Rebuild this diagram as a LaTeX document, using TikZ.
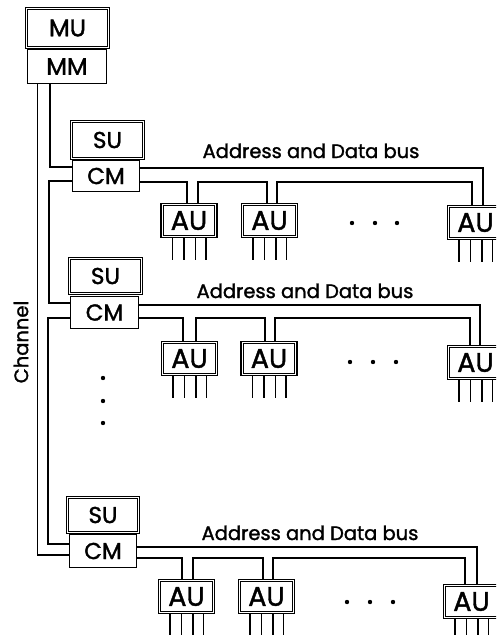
\documentclass[tikz,border=0pt]{standalone}
\usepackage{fontspec}
\setmainfont{Poppins}[FakeBold=1.5]
\tikzset{
  box/.style={draw, line width=1.2pt, rectangle, inner sep=0pt, font=\fontsize{23}{23}\selectfont},
  dbox/.style={box},
  aubox/.style={dbox, minimum width=56pt, minimum height=34pt, font=\fontsize{27}{27}\selectfont},
  wire/.style={line width=1.1pt},
  inner/.style={line width=1.1pt},
  buslbl/.style={anchor=base, inner sep=0pt, font=\fontsize{19.5}{19.5}\selectfont},
  dot/.style={circle, fill, inner sep=0pt, minimum size=4.4pt}
}
\begin{document}
\begin{tikzpicture}[x=1pt, y=-1pt]
\clip (0,0) rectangle (496,635);
% main memory
\node[dbox, minimum width=84pt, minimum height=41pt, font=\fontsize{24}{24}\selectfont] (mu) at (67.5,28) {MU};
\node[box, minimum width=79pt, minimum height=34pt, font=\fontsize{24}{24}\selectfont] (mm) at (67,66.5) {MM};
% clusters
\node[dbox, minimum width=74pt, minimum height=39pt] (su1) at (107.5,140) {SU};
\node[box, minimum width=67pt, minimum height=31pt] (cm1) at (106,176) {CM};
\node[dbox, minimum width=74pt, minimum height=37pt] (su2) at (105.5,276) {SU};
\node[box, minimum width=68pt, minimum height=32pt] (cm2) at (104.5,312.5) {CM};
\node[dbox, minimum width=73pt, minimum height=37pt] (su3) at (103,515) {SU};
\node[box, minimum width=67pt, minimum height=33pt] (cm3) at (103,551) {CM};
% arithmetic units
\node[aubox] (au11) at (189,220.5) {AU};
\node[aubox] (au12) at (269.5,220.5) {AU};
\node[aubox] (au13) at (475.5,222.5) {AU};
\node[aubox] (au21) at (189.5,358.5) {AU};
\node[aubox] (au22) at (269,358.5) {AU};
\node[aubox] (au23) at (475.5,362.5) {AU};
\node[aubox] (au31) at (186.5,596.5) {AU};
\node[aubox] (au32) at (266.5,596.5) {AU};
\node[aubox] (au33) at (471.5,601.5) {AU};
% inner borders of the double boxes
\foreach \n in {mu,su1,su2,su3,au11,au12,au13,au21,au22,au23,au31,au32,au33}{
  \draw[inner] ([shift={(3,3)}]\n.north west) rectangle ([shift={(-3,-3)}]\n.south east);
}
% labels
\node[buslbl] (bus1) at (311,158) {Address and Data bus};
\node[buslbl] (bus2) at (305,298) {Address and Data bus};
\node[buslbl] (bus3) at (310,540) {Address and Data bus};
\node[rotate=90, inner sep=0pt, font=\fontsize{19.5}{19.5}\selectfont] (chan) at (21,342) {Channel};
% channel lines
\draw[wire] (mm.south -| 37.5,0) -- (37.5,555) -- (cm3.west |- 0,555);
\draw[wire] (mm.south -| 50,0) |- (cm1.west |- 0,167);
\draw[wire] (cm1.west |- 0,181) -- (49,181) -- (49,303) -- (cm2.west |- 0,303);
\draw[wire] (cm2.west |- 0,318) -- (48,318) -- (48,544) -- (cm3.west |- 0,544);
% row 1 buses
\draw[wire] (cm1.east |- 0,168) -| (au13.north -| 483,0);
\draw[wire] (cm1.east |- 0,182) -| (au11.north -| 187,0);
\draw[wire] (au11.north -| 198,0) |- (267,182) -- (au12.north -| 267,0);
\draw[wire] (au12.north -| 277,0) |- (472,182) -- (au13.north -| 472,0);
% row 2 buses
\draw[wire] (cm2.east |- 0,305) -| (au23.north -| 480,0);
\draw[wire] (cm2.east |- 0,318) -| (au21.north -| 183,0);
\draw[wire] (au21.north -| 196,0) |- (265,318) -- (au22.north -| 265,0);
\draw[wire] (au22.north -| 275,0) |- (470,318) -- (au23.north -| 470,0);
% row 3 buses
\draw[wire] (cm3.east |- 0,547) -| (au33.north -| 477,0);
\draw[wire] (cm3.east |- 0,558) -| (au31.north -| 182,0);
\draw[wire] (au31.north -| 193,0) |- (263,558) -- (au32.north -| 263,0);
\draw[wire] (au32.north -| 273,0) |- (465,558) -- (au33.north -| 465,0);
% legs
\foreach \a in {au11,au12,au13,au21,au22,au23,au31,au32,au33}{
  \foreach \dx in {-16.5,-5,6.5,17}{
    \draw[wire] ([xshift=\dx pt]\a.south) -- ++(0,22);
  }
}
% ellipsis dots
\foreach \x in {352,375,397}{ \node[dot] at (\x,223) {}; }
\foreach \x in {350,373,396}{ \node[dot] at (\x,362) {}; }
\foreach \x in {347,370,393}{ \node[dot] at (\x,602) {}; }
\foreach \y in {378,401,423}{ \node[dot] at (103,\y) {}; }
\end{tikzpicture}
\end{document}
